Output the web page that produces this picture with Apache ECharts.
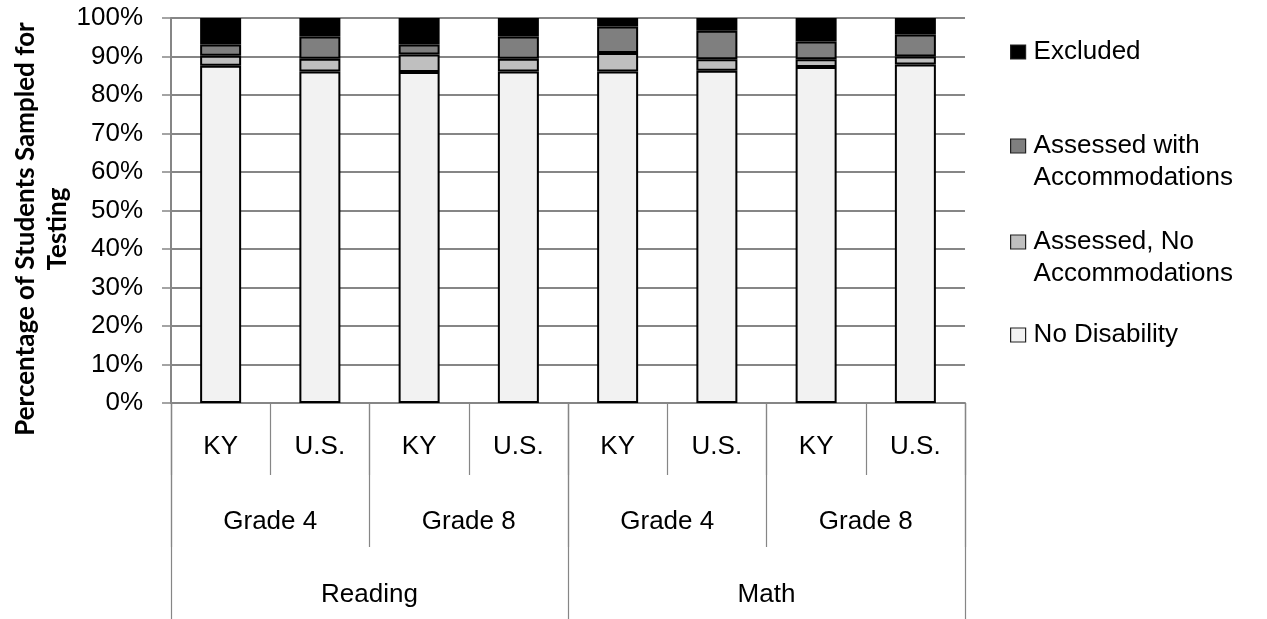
<!DOCTYPE html>
<html>
<head>
<meta charset="utf-8">
<script src="https://cdn.jsdelivr.net/npm/echarts@6/dist/echarts.min.js"></script>
<style>
html,body{margin:0;padding:0;background:#fff;}
#chart{width:1267px;height:619px;}
</style>
</head>
<body>
<div id="chart"></div>
<script>
const categories = ['KY', 'U.S.', 'KY', 'U.S.', 'KY', 'U.S.', 'KY', 'U.S.'];
const grades = ['Grade 4', 'Grade 8', 'Grade 4', 'Grade 8'];
const subjects = ['Reading', 'Math'];
const noDisability    = [87.6, 86.1, 86.0, 86.1, 86.1, 86.3, 87.3, 87.9];
const assessedNoAcc   = [2.6, 3.3, 4.5, 3.3, 4.8, 3.0, 2.0, 2.1];
const assessedWithAcc = [2.9, 5.8, 2.6, 5.8, 6.9, 7.4, 4.6, 5.7];
const excluded        = [6.9, 4.8, 6.9, 4.8, 2.2, 3.3, 6.1, 4.3];
const yTickValues = [0, 10, 20, 30, 40, 50, 60, 70, 80, 90, 100];
const yTitle = 'Percentage of Students Sampled for\nTesting';

const FONT = "'Liberation Sans', Arial, sans-serif";
const GRID_COLOR = '#868686';
const chart = echarts.init(document.getElementById('chart'), null, {renderer: 'canvas'});

const legendLabels = {
  'Excluded': 'Excluded',
  'Assessed with Accommodations': '\u00a0\nAssessed with\nAccommodations',
  'Assessed, No Accommodations': '\u00a0\nAssessed, No\nAccommodations',
  'No Disability': 'No Disability'
};
function makeLegend(name, top) {
  return {
    data: [name],
    left: 1010,
    top: top,
    padding: 0,
    orient: 'vertical',
    icon: 'rect',
    itemWidth: 15,
    itemHeight: 14,
    itemStyle: {borderColor: '#222', borderWidth: 1.2},
    formatter: n => legendLabels[n],
    textStyle: {fontFamily: FONT, fontSize: 26, lineHeight: 32, color: '#000', padding: [0, 0, 0, 3]},
    selectedMode: false
  };
}

function xAxisLevel(data, tickLen, margin) {
  return {
    type: 'category',
    position: 'bottom',
    gridIndex: 0,
    data: data,
    axisLine: {show: false},
    axisTick: {show: true, interval: 0, length: tickLen, lineStyle: {color: GRID_COLOR, width: 1.2}},
    axisLabel: {interval: 0, margin: margin, fontFamily: FONT, fontSize: 26, lineHeight: 26, color: '#000'},
    splitLine: {show: false}
  };
}

const barStyle = (color) => ({color: color, borderColor: '#000', borderWidth: 2});

const option = {
  animation: false,
  backgroundColor: '#fff',
  grid: {left: 171, right: 302, top: 18, bottom: 216, containLabel: false, outerBoundsMode: 'none'},
  legend: [
    makeLegend('Excluded', 36),
    makeLegend('Assessed with Accommodations', 98),
    makeLegend('Assessed, No Accommodations', 194),
    makeLegend('No Disability', 319)
  ],
  xAxis: [
    Object.assign(xAxisLevel(categories, 72, 30.5), {axisLine: {show: true, lineStyle: {color: GRID_COLOR, width: 2}}}),
    xAxisLevel(grades, 144, 106),
    xAxisLevel(subjects, 216, 179)
  ],
  yAxis: {
    type: 'value',
    min: yTickValues[0],
    max: yTickValues[yTickValues.length - 1],
    interval: yTickValues[1] - yTickValues[0],
    axisLine: {show: true, lineStyle: {color: GRID_COLOR, width: 2}},
    axisTick: {show: true, length: 9, lineStyle: {color: GRID_COLOR, width: 1.5}},
    axisLabel: {margin: 28, formatter: '{value}%', fontFamily: FONT, fontSize: 26, color: '#000'},
    splitLine: {show: true, lineStyle: {color: GRID_COLOR, width: 2}}
  },
  graphic: [{
    type: 'text',
    x: 42,
    y: 229,
    rotation: Math.PI / 2,
    style: {
      text: yTitle,
      font: "bold 26px Lato, 'Open Sans', sans-serif",
      align: 'center',
      verticalAlign: 'middle',
      lineHeight: 32,
      fill: '#000'
    }
  }],
  series: [
    {name: 'No Disability', type: 'bar', stack: 'all', xAxisIndex: 0, barWidth: 41, data: noDisability, itemStyle: barStyle('#f2f2f2')},
    {name: 'Assessed, No Accommodations', type: 'bar', stack: 'all', xAxisIndex: 0, barWidth: 41, data: assessedNoAcc, itemStyle: barStyle('#bfbfbf')},
    {name: 'Assessed with Accommodations', type: 'bar', stack: 'all', xAxisIndex: 0, barWidth: 41, data: assessedWithAcc, itemStyle: barStyle('#7f7f7f')},
    {name: 'Excluded', type: 'bar', stack: 'all', xAxisIndex: 0, barWidth: 41, data: excluded, itemStyle: barStyle('#000000')}
  ]
};
chart.setOption(option);
</script>
</body>
</html>
